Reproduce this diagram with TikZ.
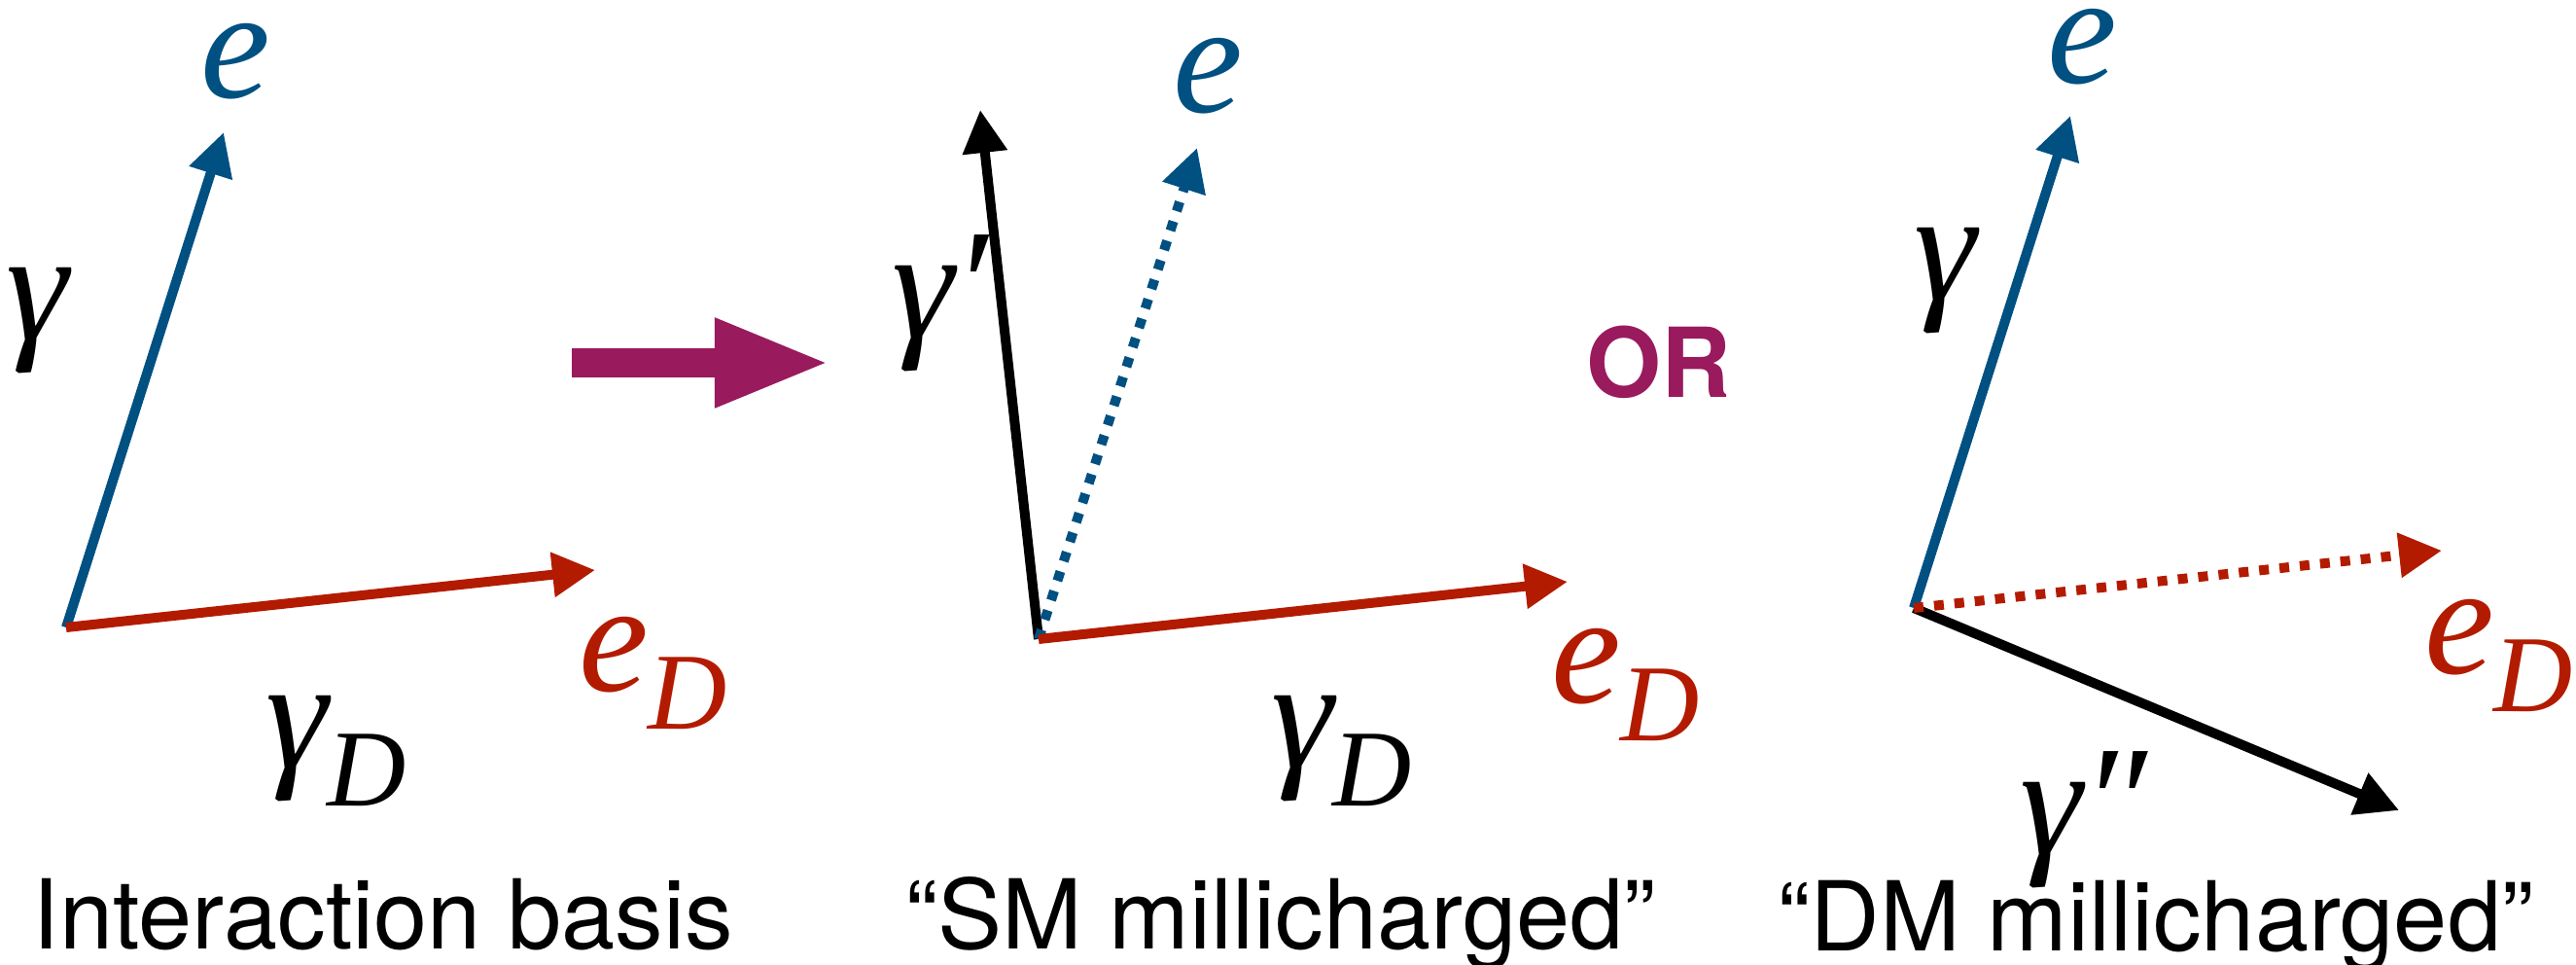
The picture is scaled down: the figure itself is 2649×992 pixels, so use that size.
\documentclass[tikz,border=0pt]{standalone}
\usepackage{fontspec}
\setsansfont{TeX Gyre Heros}
\newfontfamily\symfamily{Liberation Serif}
\usetikzlibrary{arrows.meta}
\definecolor{charge}{HTML}{005082}
\definecolor{darkcharge}{HTML}{B31B00}
\definecolor{mixing}{HTML}{9A1A5E}
\newcommand{\symfont}{\symfamily\itshape\fontsize{46}{50}\selectfont}
\newcommand{\capfont}{\fontsize{28.2}{32}\selectfont\sffamily}
\newcommand{\subD}{\raisebox{-11pt}{\fontsize{32}{36}\selectfont D}}

\begin{document}
\begin{tikzpicture}[x=0.01cm,y=-0.01cm,line width=0.1cm,
  vec/.style={-{Triangle[length=0.44cm,width=0.44cm]}},
  dotvec/.style={vec,dash pattern=on 0.1cm off 0.11cm},
  lbl/.style={inner sep=0pt,anchor=base,font=\symfont,text height=0.5em,text depth=0.22em},
  sublbl/.style={lbl,anchor=base west,text depth=0.3em},
  caption/.style={inner sep=0pt,anchor=base,font=\capfont}]
\useasboundingbox (0,0) rectangle (2649,992);

% interaction basis
\coordinate (o1) at (68,645);
\coordinate (e1) at (230,136);
\coordinate (d1) at (612,586);
\draw[vec,charge] (o1) -- (e1);
\draw[vec,darkcharge] (o1) -- (d1);
\node[lbl,charge] (le1) at (242,101) {e};
\node[lbl] (lg1) at (38,350) {γ};
\node[sublbl] (lgd1) at (268,790) {γ\subD};
\node[sublbl,darkcharge] (led1) at (590,711) {e\subD};
\node[caption] (cap1) at (394,975) {Interaction basis};

% rotation arrow
\coordinate (r0) at (588,373);
\coordinate (r1) at (855,373);
\draw[mixing,line width=0.3cm,-{Triangle[length=1.2cm,width=0.83cm]}] (r0) -- (r1);

% SM millicharged
\coordinate (o2) at (1068,657);
\coordinate (g2) at (1008,113);
\coordinate (e2) at (1231,152);
\coordinate (d2) at (1612,598);
\draw[vec] (o2) -- (g2);
\draw[dotvec,charge] (o2) -- (e2);
\draw[vec,darkcharge] (o2) -- (d2);
\node[sublbl,text height=0.75em] (lg2) at (912,348) {γ′};
\node[lbl,charge] (le2) at (1242,116) {e};
\node[sublbl] (lgd2) at (1302,790) {γ\subD};
\node[sublbl,darkcharge] (led2) at (1590,723) {e\subD};
\node[caption] (cap2) at (1317,975) {“SM millicharged”};

\node[font=\capfont\bfseries,text=mixing,inner sep=0pt] (or) at (1706,372) {OR};

% DM millicharged
\coordinate (o3) at (1968,625);
\coordinate (e3) at (2129,119);
\coordinate (d3) at (2511,566);
\coordinate (g3) at (2467,833);
\draw[vec,charge] (o3) -- (e3);
\draw[vec] (o3) -- (g3);
\draw[dotvec,darkcharge] (o3) -- (d3);
\node[lbl,charge] (le3) at (2141,86) {e};
\node[lbl] (lg3) at (2000,309) {γ};
\node[sublbl,darkcharge] (led3) at (2488,693) {e\subD};
\node[sublbl,text height=0.75em,text depth=0.2em] (lg3b) at (2072,878) {γ″};
\node[caption] (cap3) at (2217,977) {“DM millicharged”};
\end{tikzpicture}
\end{document}
